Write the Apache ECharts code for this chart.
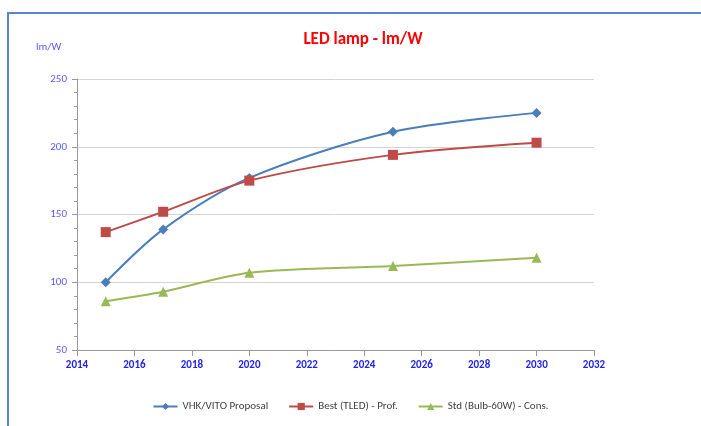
<!DOCTYPE html>
<html><head><meta charset="utf-8">
<script src="https://cdn.jsdelivr.net/npm/echarts@6/dist/echarts.min.js"></script>
<style>html,body{margin:0;padding:0;background:#fff}#c{width:701px;height:426px}</style>
</head><body><div id="c"></div>
<script>
var years = [2015, 2017, 2020, 2025, 2030];
var vhkVito = [100, 139, 177, 211, 225];
var bestTled = [137, 152, 175, 194, 203];
var stdBulb = [86, 93, 107, 112, 118];
var seriesNames = ['VHK/VITO Proposal', 'Best (TLED) - Prof.', 'Std (Bulb-60W) - Cons.'];
function pairs(v){ return years.map(function(y,i){ return [y, v[i]]; }); }
var font = 'Carlito, "Liberation Sans Narrow", Lato, sans-serif';
var chart = echarts.init(document.getElementById('c'), null, {renderer:'canvas'});
chart.setOption({
  animation:false,
  backgroundColor:'#fff',
  title:{text:'LED lamp - lm/W', left:358, textAlign:'center', top:26,
    textStyle:{color:'#ff0000', fontSize:17, fontWeight:'bold', fontFamily:font}},
  graphic:[
    {type:'rect', shape:{x:8, y:13, width:720, height:440}, style:{fill:'none', stroke:'#5b87c5', lineWidth:2}, silent:true},
    {type:'text', left:36, top:42, style:{text:'lm/W', fill:'#5a5aff', fontSize:11, fontFamily:font}}
  ],
  legend:{bottom:9, left:'center', itemGap:20, itemWidth:24, itemHeight:9,
    textStyle:{color:'#404040', fontSize:11, fontFamily:font},
    data:seriesNames},
  grid:{left:77, right:107, top:79, bottom:76},
  xAxis:{type:'value', min:2014, max:2032, interval:2,
    axisLine:{lineStyle:{color:'#999'}},
    axisTick:{show:true, length:6, lineStyle:{color:'#999'}},
    splitLine:{show:false},
    axisLabel:{color:'#2222ee', fontSize:11, fontWeight:'bold', margin:10, fontFamily:font,
      formatter:function(v){ return String(v); }}},
  yAxis:{type:'value', min:50, max:250, interval:50,
    axisLine:{show:true, lineStyle:{color:'#999'}},
    axisTick:{show:true, length:5, lineStyle:{color:'#999'}},
    minorTick:{show:true, splitNumber:5, length:3, lineStyle:{color:'#999'}},
    splitLine:{lineStyle:{color:'#d4d4d4', width:1}},
    axisLabel:{color:'#5a5aff', fontSize:11, margin:10, fontFamily:font}},
  series:[
    {name:seriesNames[0], type:'line', smooth:0.3, data:pairs(vhkVito), symbol:'diamond', symbolSize:10,
      itemStyle:{color:'#4a7ebb'}, lineStyle:{width:2, color:'#4a7ebb'}},
    {name:seriesNames[1], type:'line', smooth:0.3, data:pairs(bestTled), symbol:'rect', symbolSize:10,
      itemStyle:{color:'#be4b48'}, lineStyle:{width:2, color:'#be4b48'}},
    {name:seriesNames[2], type:'line', smooth:0.3, data:pairs(stdBulb), symbol:'triangle', symbolSize:10,
      itemStyle:{color:'#98b954'}, lineStyle:{width:2, color:'#98b954'}}
  ]
});
</script></body></html>
